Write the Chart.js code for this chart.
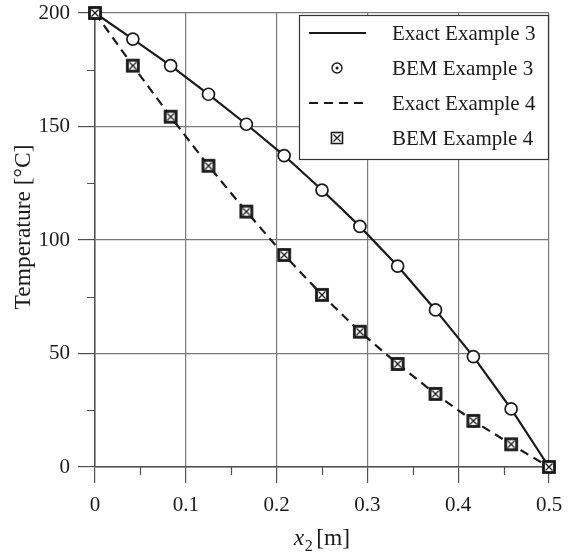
<!DOCTYPE html>
<html>
<head>
<meta charset="utf-8">
<script src="https://cdn.jsdelivr.net/npm/chart.js@4/dist/chart.umd.min.js"></script>
<style>
  html, body { margin: 0; padding: 0; background: #fff; }
  #wrap { width: 571px; height: 553px; }
</style>
</head>
<body>
<div id="wrap"><canvas id="myChart" width="571" height="553"></canvas></div>
<script>
// x2 positions [m]
const xValues = [0, 0.0417, 0.0833, 0.125, 0.1667, 0.2083, 0.25, 0.2917, 0.3333, 0.375, 0.4167, 0.4583, 0.5];
// temperature [°C]
const exact3 = [200, 188.5, 176.8, 164.2, 151.0, 137.2, 122.0, 106.0, 88.5, 69.2, 48.6, 25.6, 0];
const bem3   = [200, 188.5, 176.8, 164.2, 151.0, 137.2, 122.0, 106.0, 88.5, 69.2, 48.6, 25.6, 0];
const exact4 = [200, 176.8, 154.3, 132.7, 112.5, 93.4, 75.8, 59.6, 45.4, 32.2, 20.3, 10.0, 0];
const bem4   = [200, 176.8, 154.3, 132.7, 112.5, 93.4, 75.8, 59.6, 45.4, 32.2, 20.3, 10.0, 0];
const legendLabels = ['Exact Example 3', 'BEM Example 3', 'Exact Example 4', 'BEM Example 4'];
const xLabels = ['0', '0.1', '0.2', '0.3', '0.4', '0.5'];
const yLabels = ['0', '50', '100', '150', '200'];

const SERIF = '"Liberation Serif", "DejaVu Serif", serif';
const INK = '#1a1a1a';
const GRID = '#7a7a7a';
const AXIS = '#505050';

function pts(ys) { return xValues.map((x, i) => ({ x: x, y: ys[i] })) }

// square with a cross, used for BEM Example 4
function boxCross(g, cx, cy, size, lw, xlw) {
    const o = size / 2;
    g.fillStyle = '#fff';
    g.fillRect(cx - o, cy - o, size, size);
    g.strokeStyle = INK;
    g.lineWidth = lw;
    g.strokeRect(cx - o, cy - o, size, size);
    g.lineWidth = xlw;
    g.beginPath();
    g.moveTo(cx - o + 2, cy - o + 2); g.lineTo(cx + o - 2, cy + o - 2);
    g.moveTo(cx + o - 2, cy - o + 2); g.lineTo(cx - o + 2, cy + o - 2);
    g.stroke();
}
const squareMark = document.createElement('canvas');
squareMark.width = 16; squareMark.height = 16;
boxCross(squareMark.getContext('2d'), 8, 8, 11, 2.8, 1.3);

function isMajor(v, step) { return Math.abs(v / step - Math.round(v / step)) < 1e-6 }

const decorations = {
    id: 'decorations',
    afterDraw(chart) {
        const ctx = chart.ctx;
        const a = chart.chartArea;
        const xs = chart.scales.x, ys = chart.scales.y;
        ctx.save();

        // short minor ticks
        ctx.strokeStyle = AXIS;
        ctx.lineWidth = 1.2;
        ctx.beginPath();
        xs.ticks.forEach(t => {
            if (isMajor(t.value, 0.1)) return;
            const px = Math.round(xs.getPixelForValue(t.value)) + 0.5;
            ctx.moveTo(px, a.bottom); ctx.lineTo(px, a.bottom + 8);
        });
        ys.ticks.forEach(t => {
            if (isMajor(t.value, 50)) return;
            const py = Math.round(ys.getPixelForValue(t.value)) + 0.5;
            ctx.moveTo(a.left, py); ctx.lineTo(a.left - 8, py);
        });
        ctx.stroke();

        ctx.fillStyle = INK;
        // x axis title: x2 [m]
        const cx = (a.left + a.right) / 2;
        const baseY = 545;
        ctx.textBaseline = 'alphabetic';
        ctx.textAlign = 'left';
        ctx.font = 'italic 23.5px ' + SERIF;
        const w1 = ctx.measureText('x').width;
        ctx.font = '16px ' + SERIF;
        const w2 = ctx.measureText('2').width;
        ctx.font = '23.5px ' + SERIF;
        const w3 = ctx.measureText('[m]').width;
        const gap = 4;
        let x0 = cx - (w1 + w2 + gap + w3) / 2;
        ctx.font = 'italic 23.5px ' + SERIF;
        ctx.fillText('x', x0, baseY);
        ctx.font = '16px ' + SERIF;
        ctx.fillText('2', x0 + w1 + 0.5, baseY + 6);
        ctx.font = '23.5px ' + SERIF;
        ctx.fillText('[m]', x0 + w1 + w2 + gap, baseY);

        // y axis title
        ctx.save();
        ctx.translate(24, 227);
        ctx.rotate(-Math.PI / 2);
        ctx.textAlign = 'center';
        ctx.textBaseline = 'middle';
        ctx.font = '23.5px ' + SERIF;
        ctx.fillText('Temperature [°C]', 0, 0);
        ctx.restore();

        // legend box
        const bx = 299, by = 15, bw = 249, bh = 144;
        ctx.fillStyle = '#fff';
        ctx.fillRect(bx, by, bw, bh);
        ctx.strokeStyle = '#333';
        ctx.lineWidth = 1.2;
        ctx.strokeRect(bx + 0.5, by + 0.5, bw, bh);

        const rows = [33, 68, 103, 138];
        ctx.font = '21px ' + SERIF;
        ctx.textAlign = 'left';
        ctx.textBaseline = 'middle';
        rows.forEach((ry, i) => {
            ctx.fillStyle = INK;
            ctx.fillText(legendLabels[i], 392, ry + 1);
            ctx.strokeStyle = INK;
            if (i === 0 || i === 2) {
                ctx.lineWidth = 2.2;
                ctx.setLineDash(i === 2 ? [9, 6] : []);
                ctx.beginPath();
                ctx.moveTo(309, ry); ctx.lineTo(366, ry);
                ctx.stroke();
                ctx.setLineDash([]);
            } else if (i === 1) {
                ctx.lineWidth = 1.4;
                ctx.beginPath();
                ctx.arc(337, ry, 5, 0, Math.PI * 2);
                ctx.stroke();
                ctx.beginPath();
                ctx.arc(337, ry, 1.5, 0, Math.PI * 2);
                ctx.fillStyle = INK;
                ctx.fill();
            } else {
                boxCross(ctx, 337, ry, 11, 1.6, 1.2);
            }
        });
        ctx.restore();
    }
};

new Chart('myChart', {
    type: 'line',
    data: {
        datasets: [{
            label: legendLabels[1],
            data: pts(bem3),
            showLine: false,
            pointStyle: 'circle',
            pointRadius: 6,
            pointBorderWidth: 1.7,
            pointBorderColor: INK,
            pointBackgroundColor: '#fff',
            order: 1
        }, {
            label: legendLabels[3],
            data: pts(bem4),
            showLine: false,
            pointStyle: squareMark,
            pointRadius: 7,
            order: 0
        }, {
            label: legendLabels[0],
            data: pts(exact3),
            borderColor: INK,
            borderWidth: 2.2,
            pointRadius: 0,
            fill: false,
            order: 3
        }, {
            label: legendLabels[2],
            data: pts(exact4),
            borderColor: INK,
            borderWidth: 2.2,
            borderDash: [9, 6],
            pointRadius: 0,
            fill: false,
            order: 2
        }]
    },
    options: {
        responsive: false,
        animation: false,
        clip: false,
        layout: { padding: { top: 13, right: 22, left: 0, bottom: 0 } },
        plugins: {
            legend: { display: false },
            tooltip: { enabled: false }
        },
        scales: {
            x: {
                type: 'linear',
                min: 0,
                max: 0.5,
                afterFit(scale) {
                    scale.height = 86;
                    scale.paddingLeft = 0;
                    scale.paddingRight = 0;
                },
                border: { color: AXIS, width: 1.5 },
                grid: {
                    color: c => isMajor(c.tick.value, 0.1) ? GRID : 'rgba(0,0,0,0)',
                    tickColor: c => isMajor(c.tick.value, 0.1) ? AXIS : 'rgba(0,0,0,0)',
                    tickLength: 16,
                    lineWidth: 1.2
                },
                ticks: {
                    stepSize: 0.05,
                    padding: 10,
                    color: INK,
                    font: { family: SERIF, size: 21 },
                    callback: v => isMajor(v, 0.1) ? xLabels[Math.round(v * 10)] : ''
                }
            },
            y: {
                min: 0,
                max: 200,
                afterFit(scale) {
                    scale.width = 95;
                    scale.paddingTop = 0;
                    scale.paddingBottom = 0;
                },
                border: { color: AXIS, width: 1.5 },
                grid: {
                    color: c => isMajor(c.tick.value, 50) ? GRID : 'rgba(0,0,0,0)',
                    tickColor: c => isMajor(c.tick.value, 50) ? AXIS : 'rgba(0,0,0,0)',
                    tickLength: 17,
                    lineWidth: 1.2
                },
                ticks: {
                    stepSize: 25,
                    padding: 8,
                    color: INK,
                    font: { family: SERIF, size: 21 },
                    callback: v => isMajor(v, 50) ? yLabels[Math.round(v / 50)] : ''
                }
            }
        }
    },
    plugins: [decorations]
});
</script>
</body>
</html>
